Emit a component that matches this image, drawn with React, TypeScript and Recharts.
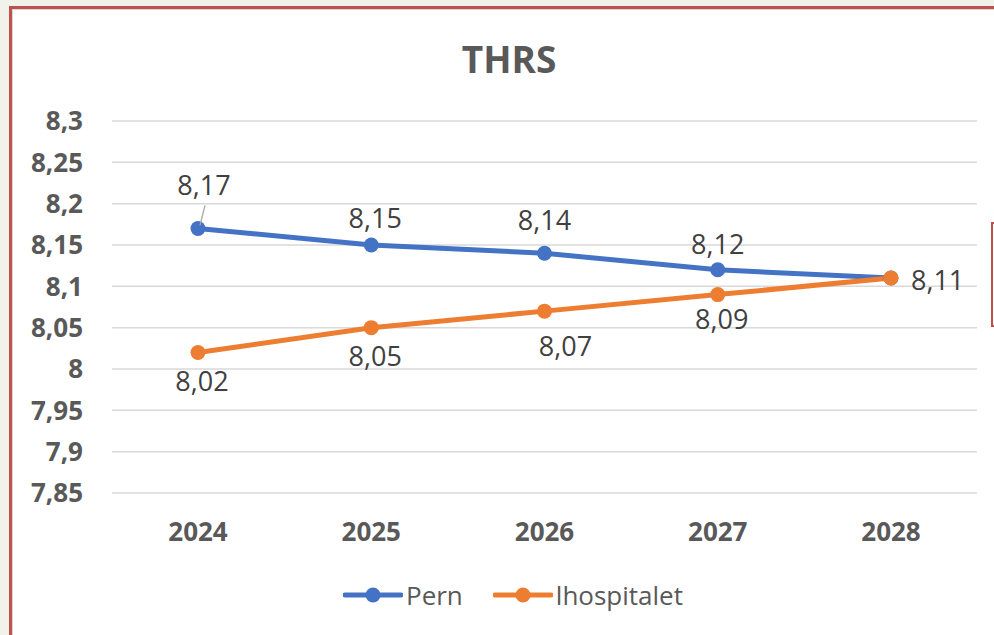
import React from "react";
import { LineChart, Line, XAxis, YAxis, CartesianGrid, LabelList } from "recharts";

const categories = ["2024", "2025", "2026", "2027", "2028"];
const pernValues = [8.17, 8.15, 8.14, 8.12, 8.11];
const lhospitaletValues = [8.02, 8.05, 8.07, 8.09, 8.11];
const yTicks = [7.85, 7.9, 7.95, 8, 8.05, 8.1, 8.15, 8.2, 8.25, 8.3];
const seriesNames = ["Pern", "lhospitalet"];
const seriesColors = ["#4472C4", "#ED7D31"];

const data = categories.map((c, i) => ({
  year: c,
  pern: pernValues[i],
  lhosp: lhospitaletValues[i],
}));

const FONT = "'Open Sans', 'DejaVu Sans', sans-serif";
const fmt = (v: number) => String(v).replace(".", ",");
const LABEL_SIZE = 27;

const PernLabel = (props: any) => {
  const { x, y, value, index } = props;
  if (index === 4) return null;
  const dys = [-43, -27, -33, -26];
  const dxs = [6, 4, 0, 0];
  const cy = y + dys[index];
  const cx = x + dxs[index];
  return (
    <g>
      {index === 0 && (
        <line x1={x + 2} y1={y - 3} x2={x + 7} y2={y - 23} stroke="#a6a6a6" strokeWidth={1.3} />
      )}
      <text x={cx} y={cy} dy="0.36em" textAnchor="middle" fontSize={LABEL_SIZE} fill="#404040" fontFamily={FONT}>
        {fmt(value)}
      </text>
    </g>
  );
};

const LhospLabel = (props: any) => {
  const { x, y, value, index } = props;
  if (index === 4) {
    return (
      <text x={x + 20} y={y + 2} dy="0.36em" textAnchor="start" fontSize={LABEL_SIZE} fill="#404040" fontFamily={FONT}>
        {fmt(value)}
      </text>
    );
  }
  const dys = [29, 29, 35, 25];
  const dxs = [4, 4, 21, 4];
  return (
    <text x={x + dxs[index]} y={y + dys[index]} dy="0.36em" textAnchor="middle" fontSize={LABEL_SIZE} fill="#404040" fontFamily={FONT}>
      {fmt(value)}
    </text>
  );
};

const LegendItem = ({ color, name }: { color: string; name: string }) => (
  <div style={{ display: "flex", alignItems: "center", marginRight: 30 }}>
    <svg width={60} height={20} style={{ display: "block" }}>
      <line x1={2} y1={10} x2={58} y2={10} stroke={color} strokeWidth={5} strokeLinecap="round" />
      <circle cx={30} cy={10} r={7.5} fill={color} />
    </svg>
    <span style={{ fontFamily: FONT, fontSize: 26, color: "#595959", marginLeft: 3, lineHeight: "30px" }}>{name}</span>
  </div>
);

export default function App() {
  return (
    <div style={{ position: "absolute", left: 0, top: 0, width: 994, height: 635, overflow: "hidden", background: "#f1f2ea" }}>
      <div
        style={{
          position: "absolute",
          left: 9,
          top: 6,
          width: 1100,
          height: 700,
          background: "#ffffff",
          borderLeft: "3px solid #c0504d",
          borderTop: "3px solid #c0504d",
          boxShadow: "inset 1px 1px 0 #d9d9d9",
        }}
      />
      <div
        style={{
          position: "absolute",
          left: 991,
          top: 222,
          width: 10,
          height: 101,
          border: "2px solid #c0504d",
          background: "#fff",
        }}
      />
      <div
        style={{
          position: "absolute",
          left: 0,
          width: 1018,
          top: 36,
          textAlign: "center",
          fontFamily: FONT,
          fontWeight: 700,
          fontSize: 37,
          color: "#595959",
          lineHeight: "46px",
        }}
      >
        THRS
      </div>
      <div style={{ position: "absolute", left: 0, top: 0 }}>
        <LineChart width={994} height={635} data={data} margin={{ top: 121, right: 17, bottom: 0, left: 22 }}>
          <CartesianGrid horizontal vertical={false} stroke="#d9d9d9" strokeWidth={1.5} />
          <XAxis
            dataKey="year"
            axisLine={false}
            tickLine={false}
            tickSize={0}
            tickMargin={30}
            height={142}
            padding={{ left: 86, right: 86 }}
            tick={{ fontFamily: FONT, fontSize: 26, fontWeight: 700, fill: "#595959" }}
            interval={0}
          />
          <YAxis
            domain={[7.85, 8.3]}
            ticks={yTicks}
            width={90}
            axisLine={false}
            tickLine={false}
            tickSize={0}
            tickMargin={29}
            interval={0}
            tickFormatter={(v: number) => fmt(Number(v.toFixed(2)))}
            tick={{ fontFamily: FONT, fontSize: 26, fontWeight: 700, fill: "#595959" }}
          />
          <Line
            dataKey="pern"
            name={seriesNames[0]}
            stroke={seriesColors[0]}
            strokeWidth={5}
            dot={{ r: 7.5, fill: seriesColors[0], stroke: seriesColors[0], strokeWidth: 0 }}
            isAnimationActive={false}
          >
            <LabelList dataKey="pern" content={PernLabel} />
          </Line>
          <Line
            dataKey="lhosp"
            name={seriesNames[1]}
            stroke={seriesColors[1]}
            strokeWidth={5}
            dot={{ r: 7.5, fill: seriesColors[1], stroke: seriesColors[1], strokeWidth: 0 }}
            isAnimationActive={false}
          >
            <LabelList dataKey="lhosp" content={LhospLabel} />
          </Line>
        </LineChart>
      </div>
      <div
        style={{
          position: "absolute",
          left: 343,
          top: 580,
          display: "flex",
          alignItems: "center",
        }}
      >
        <LegendItem color={seriesColors[0]} name={seriesNames[0]} />
        <LegendItem color={seriesColors[1]} name={seriesNames[1]} />
      </div>
    </div>
  );
}
